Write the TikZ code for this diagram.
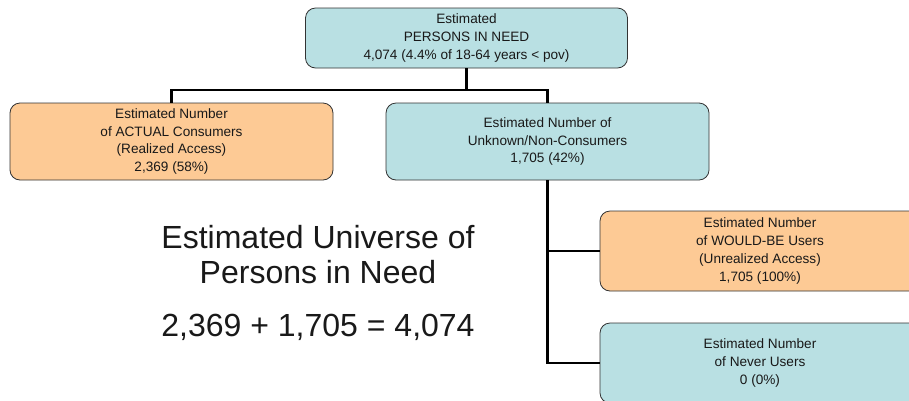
\documentclass[tikz,border=0pt]{standalone}
\usepackage{fontspec}
\setmainfont{Liberation Sans}
\definecolor{tealbox}{HTML}{B9E0E3}
\definecolor{orangebox}{HTML}{FDCA95}
\definecolor{edgegray}{HTML}{333333}
\tikzset{
  box/.style={draw=edgegray, line width=0.8pt, rounded corners=10pt, align=center,
    inner sep=0pt, font=\fontsize{13.6}{17.8}\selectfont, text=black!90},
  tealb/.style={box, fill=tealbox},
  orangeb/.style={box, fill=orangebox},
  link/.style={draw=black, line width=2.6pt},
  bigtext/.style={align=center, font=\fontsize{32}{35}\selectfont, text=black!90}
}
\begin{document}
\begin{tikzpicture}[x=1pt,y=-1pt]
\clip (0,0) rectangle (909,400);
\fill[white] (0,0) rectangle (909,400);
\node[tealb, minimum width=322pt, minimum height=60pt] (top) at (466.5,38) {Estimated\\PERSONS IN NEED\\4,074 (4.4\% of 18-64 years {<} pov)};
\node[orangeb, minimum width=323pt, minimum height=77pt] (actual) at (171.5,141.5) {Estimated Number\\of ACTUAL Consumers\\(Realized Access)\\2,369 (58\%)};
\node[tealb, minimum width=323pt, minimum height=77pt] (unknown) at (547.5,141.5) {Estimated Number of\\Unknown/Non-Consumers\\1,705 (42\%)};
\node[orangeb, minimum width=320pt, minimum height=80pt] (would) at (760,251) {Estimated Number\\of WOULD-BE Users\\(Unrealized Access)\\1,705 (100\%)};
\node[tealb, minimum width=320pt, minimum height=80pt] (never) at (760,363) {Estimated Number\\of Never Users\\0 (0\%)};
\coordinate (split) at (466.5,90);
\draw[link] (top.south) -- (split);
\draw[link] (actual.north) |- (split) -| (unknown.north);
\coordinate (trunk) at (547.5,363);
\draw[link] (unknown.south) -- (trunk) -- (never.west);
\draw[link] (would.west) -- (unknown.south |- would.west);
\node[bigtext] (universe) at (318,255) {Estimated Universe of\\Persons in Need};
\node[bigtext] (sum) at (318,327) {2,369 + 1,705 = 4,074};
\end{tikzpicture}
\end{document}
